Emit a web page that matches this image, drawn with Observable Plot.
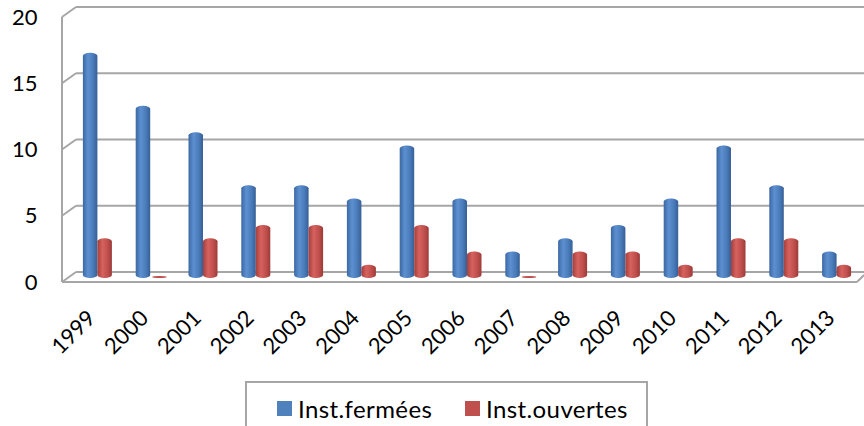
<!DOCTYPE html>
<html><head><meta charset="utf-8">
<script src="https://cdn.jsdelivr.net/npm/d3@7"></script>
<script src="https://cdn.jsdelivr.net/npm/@observablehq/plot@0.6"></script>
<style>
body{margin:0;background:#fff;font-family:Lato,sans-serif;}
#wrap{width:864px;height:426px;overflow:hidden;position:relative;}
#chart svg{display:block;}
.legend{position:absolute;left:245px;top:381px;width:403px;height:60px;border:2px solid #A6A6A6;box-sizing:border-box;}
.item{position:absolute;top:11px;display:flex;align-items:center;font-size:24px;letter-spacing:0.4px;color:#000;white-space:nowrap;}
.sw{width:15px;height:15px;margin-right:6px;display:inline-block;}
</style></head>
<body><div id="wrap"><div id="chart"></div>
<div class="legend">
<div class="item" style="left:30px"><span class="sw" style="background:#4F81BD"></span>Inst.fermées</div>
<div class="item" style="left:218px"><span class="sw" style="background:#C0504D"></span>Inst.ouvertes</div>
</div></div>
<script>
const years = ["1999","2000","2001","2002","2003","2004","2005","2006","2007","2008","2009","2010","2011","2012","2013"];
const fermees = [17,13,11,7,7,6,10,6,2,3,4,6,10,7,2];
const ouvertes = [3,0,3,4,4,1,4,2,0,2,2,1,3,3,1];
const yTicks = [0,5,10,15,20];

const W = 864, H = 375, ML = 71, MR = 1, MT = 13, MB = 97;
const step = (W - ML - MR) / years.length;
const barW = 14.5;
const half = step / 2;

const defsMark = () => {
  const g = d3.create("svg:g");
  const defs = g.append("defs");
  const mk = (id, stops) => {
    const lg = defs.append("linearGradient").attr("id", id).attr("x1", "0").attr("x2", "1").attr("y1", "0").attr("y2", "0");
    stops.forEach(([o, c]) => lg.append("stop").attr("offset", o).attr("stop-color", c));
  };
  mk("gBlue", [[0, "#3B68A3"], [0.35, "#5D90D0"], [0.7, "#4A7CBB"], [1, "#365F96"]]);
  mk("gRed", [[0, "#A53E3B"], [0.35, "#D6625E"], [0.7, "#C0504D"], [1, "#9C3B38"]]);
  return g.node();
};

const wallMark = (index, scales) => {
  const y = scales.y;
  const g = d3.create("svg:g").attr("fill", "none").attr("stroke", "#A6A6A6").attr("stroke-width", 2);
  const x0 = 62, x1 = 76;
  yTicks.forEach(v => {
    g.append("line").attr("x1", x1).attr("y1", y(v) - 6).attr("x2", W).attr("y2", y(v) - 6);
    g.append("line").attr("x1", x0).attr("y1", y(v) + 4).attr("x2", x1).attr("y2", y(v) - 6);
  });
  g.append("line").attr("x1", x0).attr("y1", y(20) + 4).attr("x2", x0).attr("y2", y(0) + 4);
  g.append("line").attr("x1", x0).attr("y1", y(0) + 4).attr("x2", 857).attr("y2", y(0) + 4);
  g.append("line").attr("x1", 857).attr("y1", y(0) + 4).attr("x2", 864).attr("y2", y(0) - 3);
  return g.node();
};

const plot = Plot.plot({
  width: W, height: H,
  marginLeft: ML, marginRight: MR, marginTop: MT, marginBottom: MB,
  x: {domain: years, padding: 0, round: false, label: null},
  y: {domain: [0, 20], label: null, ticks: yTicks},
  style: {fontFamily: "Lato, sans-serif", fontSize: "21px", color: "#000", background: "#fff"},
  marks: [
    defsMark,
    wallMark,
    Plot.barY(fermees, {x: (d, i) => years[i], y: d => d, fill: "url(#gBlue)",
      insetLeft: half - barW, insetRight: half, rx: 7, ry: 3}),
    Plot.barY(ouvertes, {x: (d, i) => years[i], y: d => d, fill: "url(#gRed)",
      insetLeft: half, insetRight: half - barW, rx: 7, ry: 3}),
    Plot.barY(ouvertes, {filter: d => d === 0, x: (d, i) => years[i], y: d => d, fill: "#C0504D",
      insetLeft: half + 2, insetRight: half - barW - 2, insetTop: -2, rx: 7, ry: 1}),
    Plot.axisY({ticks: yTicks, tickSize: 0, tickPadding: 34, dy: 4, fontSize: 22, label: null}),
    Plot.axisX({tickSize: 0, tickRotate: -45, tickPadding: 36, dx: -6, fontSize: 22, label: null})
  ]
});
document.getElementById("chart").appendChild(plot);
</script></body></html>
